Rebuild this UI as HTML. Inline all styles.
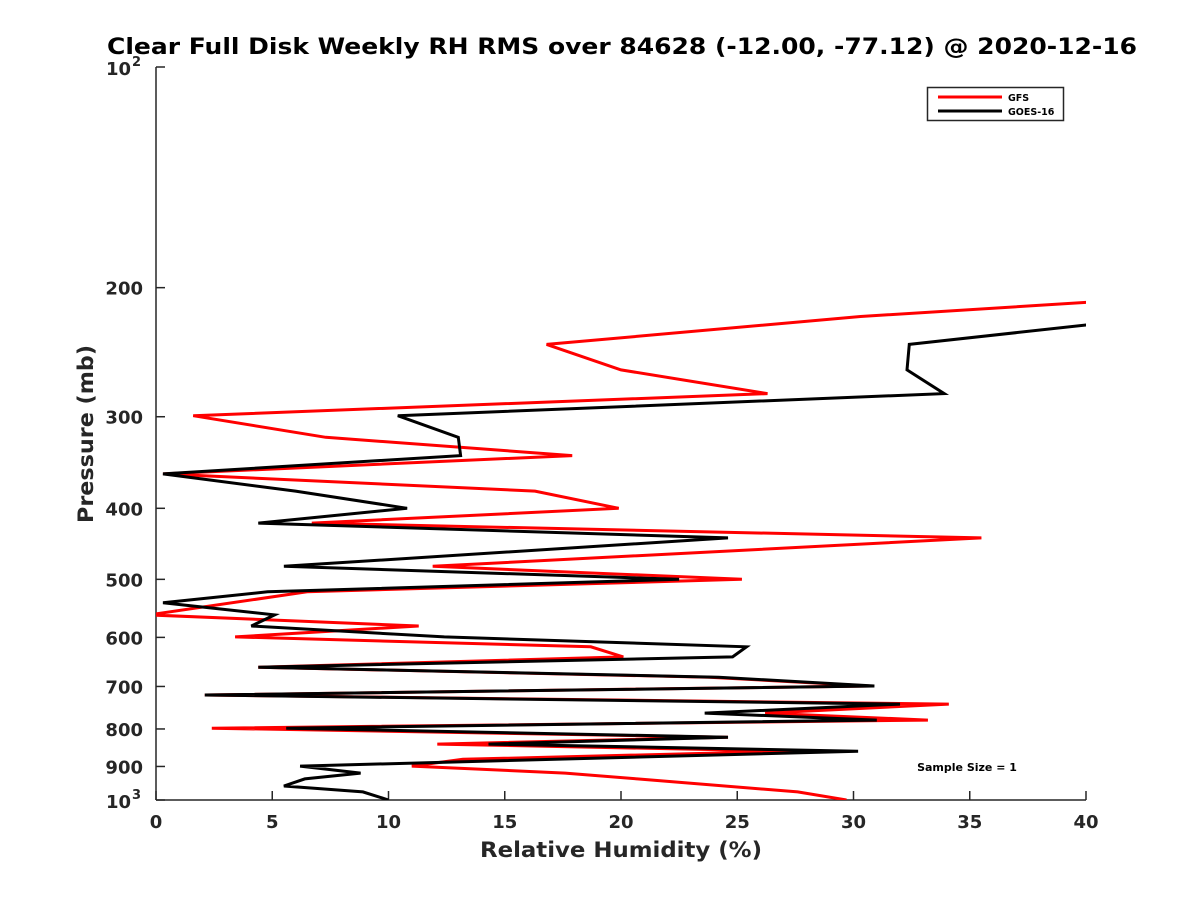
<!DOCTYPE html>
<html><head><meta charset="utf-8"><style>body{margin:0;background:#fff}svg{display:block;font-family:"DejaVu Sans","Liberation Sans",sans-serif}</style></head>
<body>
<svg id="chart" width="1200" height="900" viewBox="0 0 1200 900">
<rect width="1200" height="900" fill="#fff"/>
<text x="622" y="54" text-anchor="middle" font-size="22" font-weight="bold" textLength="1030" lengthAdjust="spacingAndGlyphs">Clear Full Disk Weekly RH RMS over 84628 (-12.00, -77.12) @ 2020-12-16</text>
<defs><clipPath id="plotclip"><rect x="156" y="67" width="930" height="733"/></clipPath></defs>
<g id="axes"></g>
<g id="series" clip-path="url(#plotclip)"></g>
<text x="621" y="857" text-anchor="middle" font-size="21" font-weight="bold" fill="#262626" textLength="282" lengthAdjust="spacingAndGlyphs">Relative Humidity (%)</text>
<text transform="translate(93,434) rotate(-90)" text-anchor="middle" font-size="21" font-weight="bold" fill="#262626" textLength="178" lengthAdjust="spacingAndGlyphs">Pressure (mb)</text>
<text x="967" y="771" text-anchor="middle" font-size="11" font-weight="bold">Sample Size = 1</text>
<g>
<rect x="927.5" y="87.5" width="136" height="33" fill="#fff" stroke="#262626" stroke-width="1.5"/>
<line x1="938" y1="97" x2="1002" y2="97" stroke="#f00" stroke-width="3"/>
<text x="1008" y="101" font-size="9.5" font-weight="bold">GFS</text>
<line x1="938" y1="111" x2="1002" y2="111" stroke="#000" stroke-width="3"/>
<text x="1008" y="115" font-size="9.5" font-weight="bold">GOES-16</text>
</g>
</svg>
<script>
const gfsPressure=[209,219,239,259,279,299,320,339,359,379,400,419,439,480,500,520,559,579,599,618,638,659,680,699,719,740,761,778,798,821,839,858,880,899,919,936,975,1000];
const gfsValues=[40.5,30.3,16.8,20.0,26.3,1.6,7.3,17.9,0.3,16.3,19.9,6.7,35.5,11.9,25.2,6.5,-0.3,11.3,3.4,18.7,20.1,4.4,23.8,30.7,2.1,34.1,26.2,33.2,2.4,24.6,12.1,27.4,13.2,11.0,17.6,20.7,27.6,29.7];
const goesPressure=[224,239,259,279,299,320,339,359,379,400,419,439,480,500,520,538,559,579,599,618,638,659,680,699,719,740,761,778,798,821,839,858,899,919,936,957,975,1000];
const goesValues=[40.5,32.4,32.3,33.9,10.4,13.0,13.1,0.3,6.0,10.8,4.4,24.6,5.5,22.5,4.8,0.3,5.1,4.1,12.4,25.4,24.8,4.4,24.2,30.9,2.1,32.0,23.6,31.0,5.6,24.6,14.3,30.2,6.2,8.8,6.4,5.5,8.9,10.0];
const xTicks=[0,5,10,15,20,25,30,35,40];
const yTicks=[200,300,400,500,600,700,800,900];
const NS='http://www.w3.org/2000/svg';
const X=v=>156+v*930/40;
const Y=p=>67+(Math.log10(p)-2)*733;
function mk(tag,attrs,parent,text){const e=document.createElementNS(NS,tag);for(const k in attrs)e.setAttribute(k,attrs[k]);if(text!==undefined)e.textContent=text;parent.appendChild(e);return e;}
const ax=document.getElementById('axes');
let a=mk('line',{x1:156,y1:67,x2:156,y2:800,stroke:'#262626','stroke-width':1.5},ax);


a=mk('line',{x1:156,y1:800,x2:1086,y2:800,stroke:'#262626','stroke-width':1.5},ax);


xTicks.forEach(t=>{
 mk('line',{x1:X(t),y1:800,x2:X(t),y2:791,stroke:'#262626','stroke-width':1.5},ax);
 const l=mk('text',{x:X(t),y:828,'text-anchor':'middle','font-size':18,'font-weight':'bold',fill:'#262626'},ax,String(t));
 
 
});
yTicks.forEach(t=>{
 mk('line',{x1:156,y1:Y(t),x2:165,y2:Y(t),stroke:'#262626','stroke-width':1.5},ax);
 const l=mk('text',{x:143,y:Y(t)+7,'text-anchor':'end','font-size':18,'font-weight':'bold',fill:'#262626'},ax,String(t));
 
 
});
[[100,'2'],[1000,'3']].forEach(([p,e])=>{
 mk('line',{x1:156,y1:Y(p),x2:165,y2:Y(p),stroke:'#262626','stroke-width':1.5},ax);
 const l=mk('text',{x:131,y:Y(p)+8,'text-anchor':'end','font-size':18,'font-weight':'bold',fill:'#262626'},ax,'10');
 
 
 mk('text',{x:132,y:Y(p)-1,'font-size':13,'font-weight':'bold',fill:'#262626'},ax,e);
});
const sg=document.getElementById('series');
function line(ps,vs,color,name){
 const d=ps.map((p,i)=>(i?'L':'M')+X(vs[i]).toFixed(1)+' '+Y(p).toFixed(1)).join(' ');
 const e=mk('path',{d:d,fill:'none',stroke:color,'stroke-width':3,'stroke-linejoin':'miter'},sg);
 
 
}
line(gfsPressure,gfsValues,'#f00','gfs-line');
line(goesPressure,goesValues,'#000','goes-16-line');
</script>
</body></html>
